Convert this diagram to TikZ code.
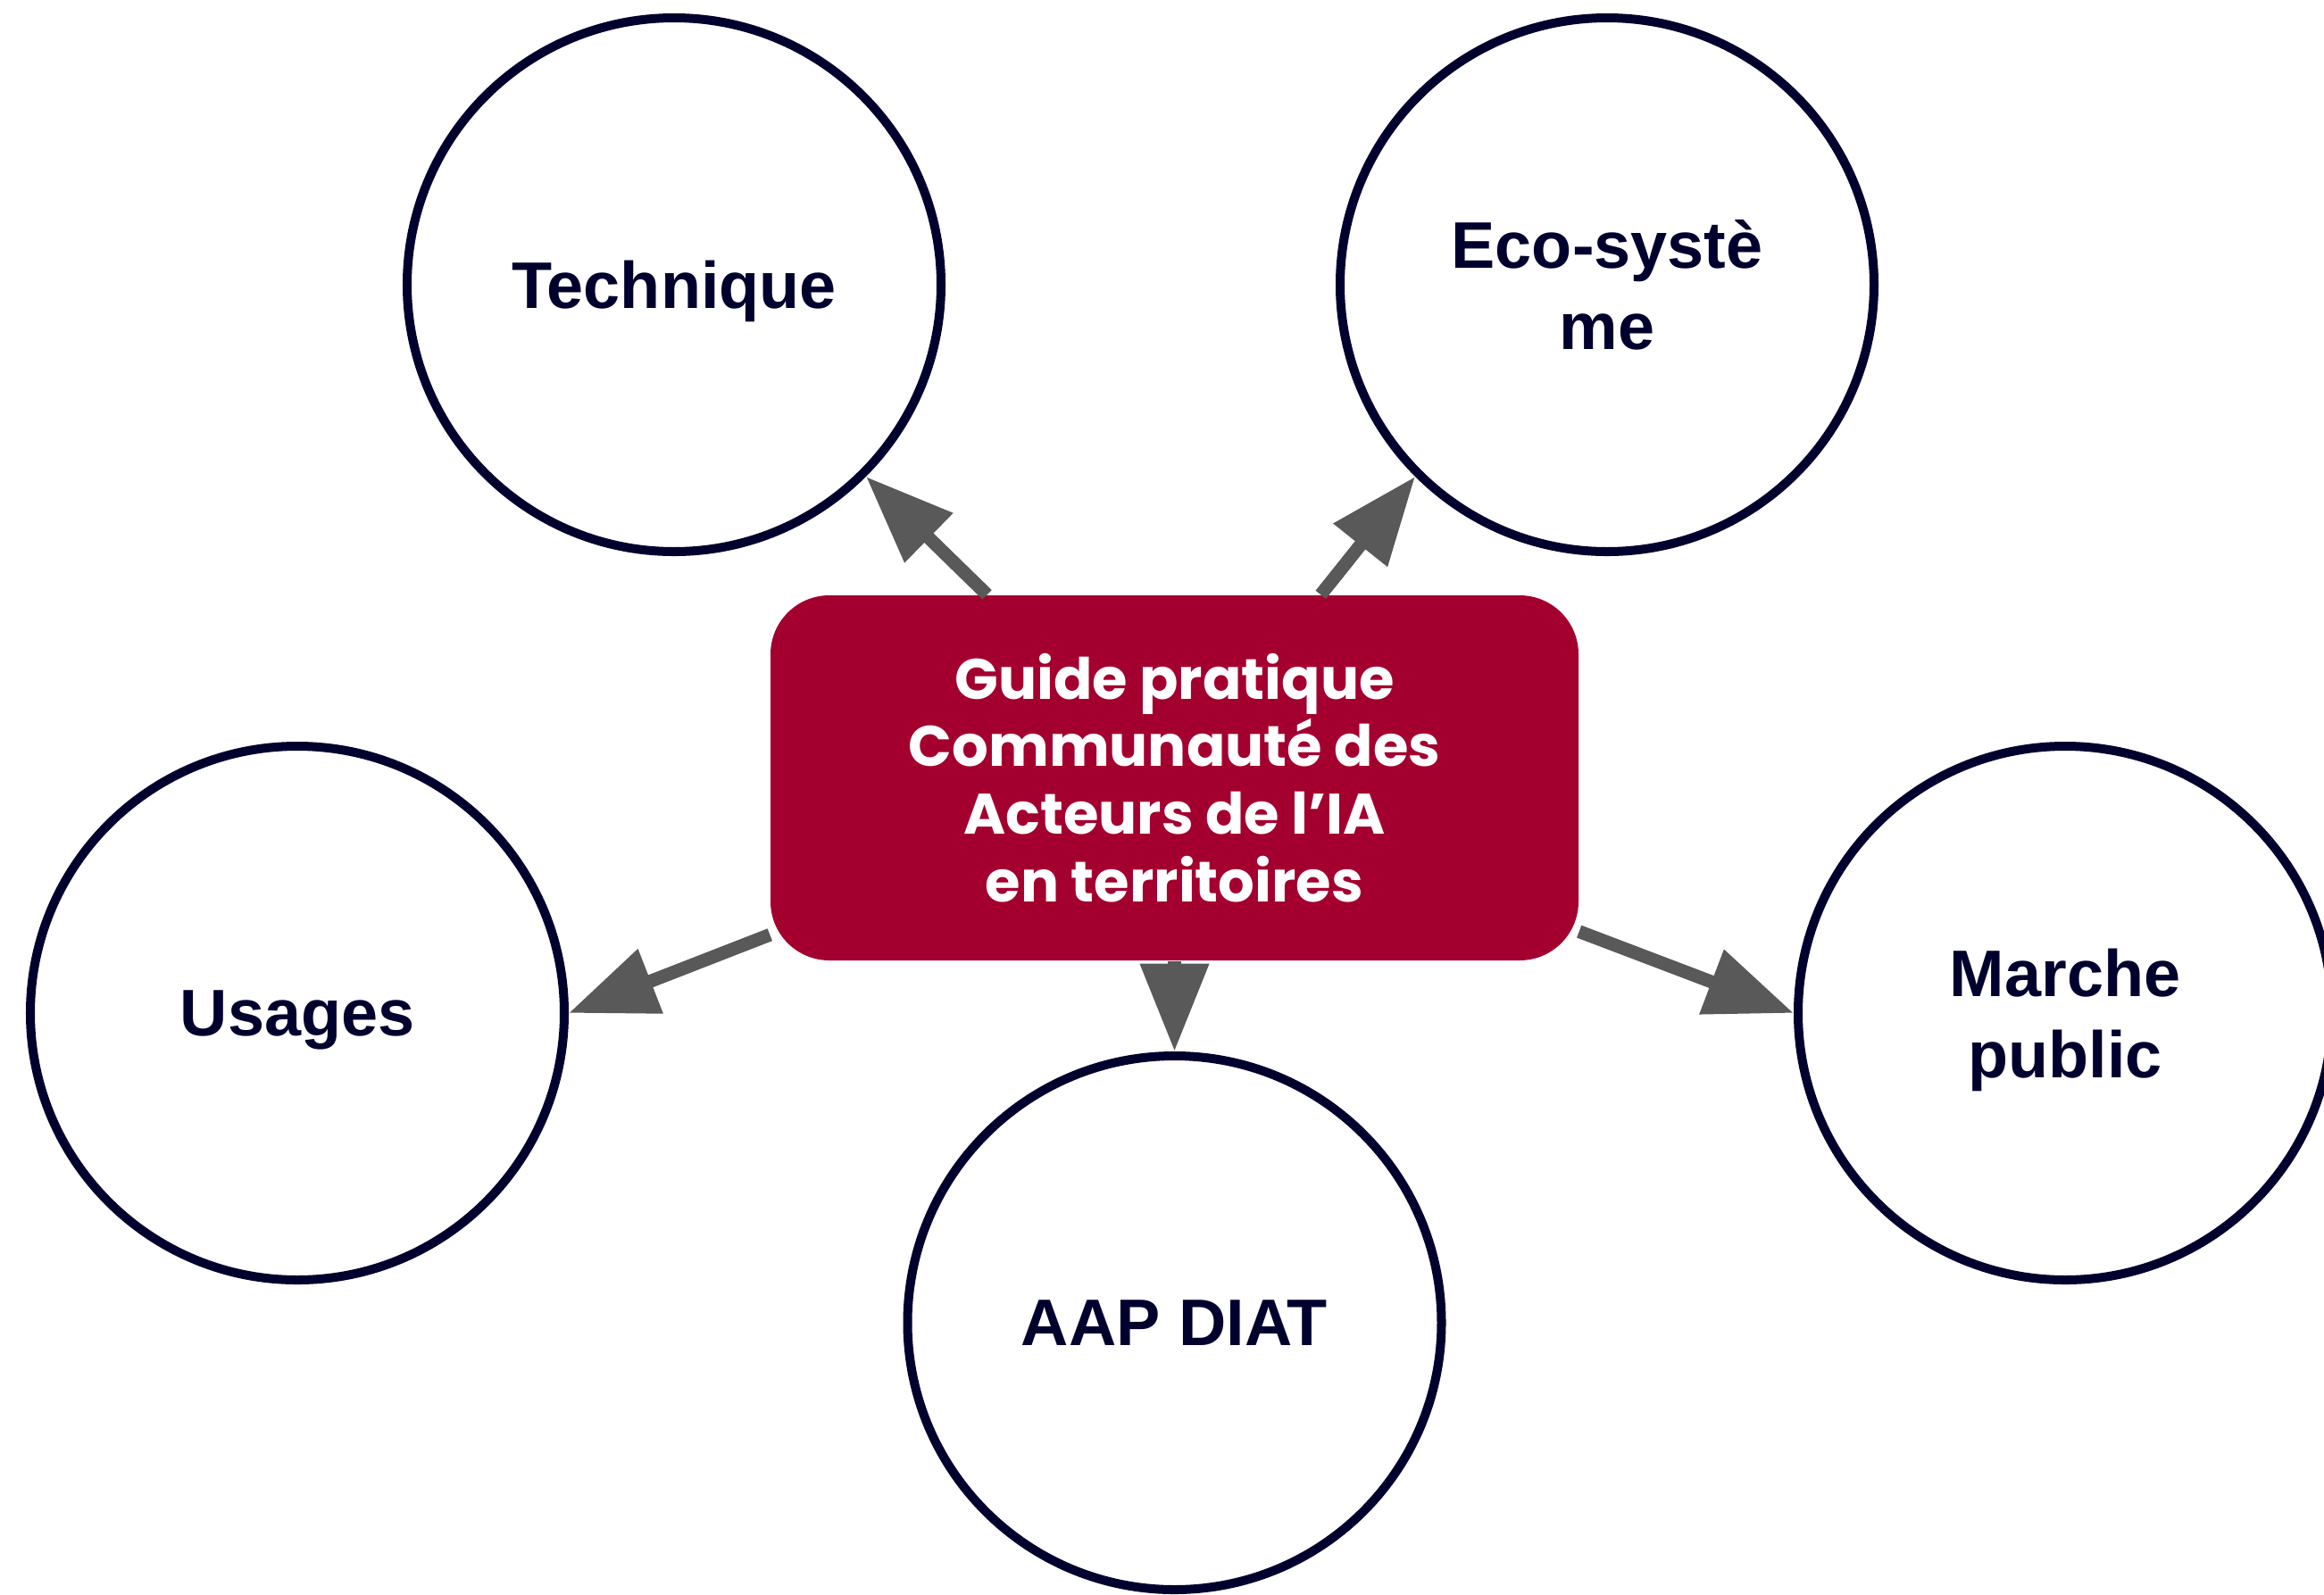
\documentclass[tikz,border=0pt]{standalone}
\usepackage{fontspec}
\setmainfont{Liberation Sans}
\newfontfamily\poppins{Poppins}
\usetikzlibrary{arrows.meta}

\definecolor{navy}{HTML}{00002E}
\definecolor{wine}{HTML}{A30030}
\definecolor{arrowgray}{HTML}{595959}

\begin{document}
\begin{tikzpicture}[
        ->, % Arrow style
        > = {Triangle[length=28pt,width=21pt]}, % arrow head style
        every edge/.style = {draw=arrowgray, line width=4.2pt} % shaft thickness
      ]

      \tikzstyle{topic}=[circle,draw=navy,line width=2.85pt,minimum size=5.98cm,inner sep=0pt,
        align=center,text=navy,text depth=0pt,font=\fontsize{21}{26}\selectfont\bfseries]
      \tikzstyle{hub}=[rectangle,rounded corners=0.66cm,fill=wine,draw=none,minimum width=9.05cm,
        minimum height=4.09cm,align=center,text=white,font=\poppins\fontsize{18.2}{21.6}\selectfont\bfseries]

      \useasboundingbox (0,0) rectangle (26.03,-17.86);

      \node[hub] (guide) at (13.155,-8.715) {Guide pratique\\Communauté des\\Acteurs de l’IA\\en territoires};
      \node[topic] (tech) at (7.55,-3.19) {Technique};
      \node[topic] (eco) at (18.00,-3.19) {Eco-systè\\me};
      \node[topic] (usa) at (3.33,-11.35) {Usages};
      \node[topic] (aap) at (13.155,-14.82) {AAP DIAT};
      \node[topic] (mar) at (23.13,-11.35) {Marche\\public};

      \path (guide) edge (tech.south east);
      \path (guide) edge (eco.south west);
      \path (guide) edge (usa.east);
      \path (guide) edge (mar.west);
      \path (guide) edge (aap.north);

    \end{tikzpicture}
\end{document}
